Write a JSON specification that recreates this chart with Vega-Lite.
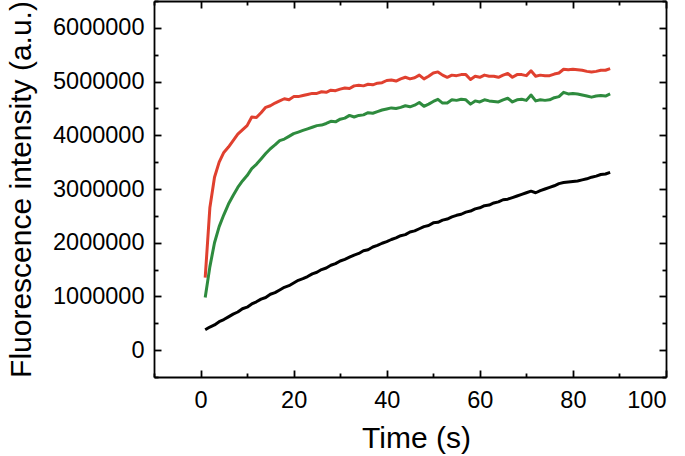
{
  "$schema": "https://vega.github.io/schema/vega-lite/v6.json",
  "width": 512,
  "height": 376,
  "autosize": "none",
  "padding": {"left": 154, "top": 1, "right": 19, "bottom": 79},
  "background": "white",
  "data": {"values": [
    {"t":1,"red":1350000,"green":980000,"black":380000},
    {"t":2,"red":2650000,"green":1550000,"black":430000},
    {"t":3,"red":3220000,"green":2000000,"black":470000},
    {"t":4,"red":3500000,"green":2300000,"black":530000},
    {"t":5,"red":3680000,"green":2520000,"black":570000},
    {"t":6,"red":3780000,"green":2720000,"black":620000},
    {"t":7,"red":3900000,"green":2880000,"black":670000},
    {"t":8,"red":4020000,"green":3030000,"black":710000},
    {"t":9,"red":4100000,"green":3150000,"black":770000},
    {"t":10,"red":4180000,"green":3250000,"black":800000},
    {"t":11,"red":4340000,"green":3380000,"black":860000},
    {"t":12,"red":4330000,"green":3460000,"black":900000},
    {"t":13,"red":4420000,"green":3560000,"black":950000},
    {"t":14,"red":4520000,"green":3660000,"black":980000},
    {"t":15,"red":4550000,"green":3750000,"black":1040000},
    {"t":16,"red":4600000,"green":3820000,"black":1070000},
    {"t":17,"red":4640000,"green":3900000,"black":1120000},
    {"t":18,"red":4680000,"green":3930000,"black":1170000},
    {"t":19,"red":4660000,"green":3980000,"black":1200000},
    {"t":20,"red":4720000,"green":4030000,"black":1250000},
    {"t":21,"red":4720000,"green":4060000,"black":1300000},
    {"t":22,"red":4740000,"green":4090000,"black":1330000},
    {"t":23,"red":4760000,"green":4120000,"black":1370000},
    {"t":24,"red":4780000,"green":4150000,"black":1420000},
    {"t":25,"red":4780000,"green":4180000,"black":1450000},
    {"t":26,"red":4810000,"green":4190000,"black":1500000},
    {"t":27,"red":4800000,"green":4220000,"black":1530000},
    {"t":28,"red":4840000,"green":4260000,"black":1580000},
    {"t":29,"red":4830000,"green":4250000,"black":1610000},
    {"t":30,"red":4860000,"green":4300000,"black":1660000},
    {"t":31,"red":4880000,"green":4320000,"black":1690000},
    {"t":32,"red":4870000,"green":4370000,"black":1730000},
    {"t":33,"red":4920000,"green":4340000,"black":1770000},
    {"t":34,"red":4930000,"green":4370000,"black":1800000},
    {"t":35,"red":4920000,"green":4380000,"black":1850000},
    {"t":36,"red":4950000,"green":4420000,"black":1870000},
    {"t":37,"red":4940000,"green":4410000,"black":1920000},
    {"t":38,"red":4970000,"green":4440000,"black":1950000},
    {"t":39,"red":4980000,"green":4470000,"black":1990000},
    {"t":40,"red":5020000,"green":4490000,"black":2020000},
    {"t":41,"red":5030000,"green":4510000,"black":2060000},
    {"t":42,"red":5010000,"green":4500000,"black":2090000},
    {"t":43,"red":5050000,"green":4520000,"black":2130000},
    {"t":44,"red":5080000,"green":4550000,"black":2150000},
    {"t":45,"red":5050000,"green":4530000,"black":2200000},
    {"t":46,"red":5070000,"green":4560000,"black":2220000},
    {"t":47,"red":5120000,"green":4610000,"black":2260000},
    {"t":48,"red":5050000,"green":4540000,"black":2300000},
    {"t":49,"red":5100000,"green":4580000,"black":2320000},
    {"t":50,"red":5160000,"green":4630000,"black":2370000},
    {"t":51,"red":5180000,"green":4670000,"black":2380000},
    {"t":52,"red":5120000,"green":4600000,"black":2420000},
    {"t":53,"red":5080000,"green":4600000,"black":2440000},
    {"t":54,"red":5120000,"green":4660000,"black":2480000},
    {"t":55,"red":5110000,"green":4650000,"black":2510000},
    {"t":56,"red":5130000,"green":4670000,"black":2530000},
    {"t":57,"red":5130000,"green":4660000,"black":2570000},
    {"t":58,"red":5040000,"green":4580000,"black":2590000},
    {"t":59,"red":5100000,"green":4640000,"black":2630000},
    {"t":60,"red":5080000,"green":4620000,"black":2650000},
    {"t":61,"red":5120000,"green":4660000,"black":2690000},
    {"t":62,"red":5100000,"green":4640000,"black":2700000},
    {"t":63,"red":5100000,"green":4630000,"black":2740000},
    {"t":64,"red":5080000,"green":4620000,"black":2760000},
    {"t":65,"red":5120000,"green":4660000,"black":2800000},
    {"t":66,"red":5150000,"green":4690000,"black":2810000},
    {"t":67,"red":5080000,"green":4620000,"black":2840000},
    {"t":68,"red":5130000,"green":4660000,"black":2870000},
    {"t":69,"red":5130000,"green":4670000,"black":2900000},
    {"t":70,"red":5110000,"green":4650000,"black":2930000},
    {"t":71,"red":5200000,"green":4750000,"black":2960000},
    {"t":72,"red":5100000,"green":4640000,"black":2930000},
    {"t":73,"red":5120000,"green":4660000,"black":2970000},
    {"t":74,"red":5110000,"green":4650000,"black":3000000},
    {"t":75,"red":5110000,"green":4660000,"black":3030000},
    {"t":76,"red":5140000,"green":4700000,"black":3060000},
    {"t":77,"red":5160000,"green":4720000,"black":3100000},
    {"t":78,"red":5230000,"green":4800000,"black":3120000},
    {"t":79,"red":5220000,"green":4770000,"black":3130000},
    {"t":80,"red":5230000,"green":4780000,"black":3140000},
    {"t":81,"red":5220000,"green":4770000,"black":3150000},
    {"t":82,"red":5210000,"green":4750000,"black":3170000},
    {"t":83,"red":5190000,"green":4730000,"black":3190000},
    {"t":84,"red":5180000,"green":4710000,"black":3220000},
    {"t":85,"red":5190000,"green":4730000,"black":3240000},
    {"t":86,"red":5210000,"green":4740000,"black":3270000},
    {"t":87,"red":5210000,"green":4730000,"black":3280000},
    {"t":88,"red":5240000,"green":4770000,"black":3310000}
  ]},
  "transform": [{"fold": ["red", "green", "black"], "as": ["series", "value"]}],
  "layer": [
    {
      "mark": {"type": "line", "strokeWidth": 3, "strokeJoin": "round"},
      "encoding": {
        "x": {"field": "t", "type": "quantitative",
          "scale": {"domain": [-10, 100], "nice": false, "zero": false},
          "axis": {"orient": "bottom", "values": [0, 20, 40, 60, 80, 100], "title": "Time (s)", "tickSize": -7, "labelPadding": 18, "titlePadding": 12, "titleX": 262}},
        "y": {"field": "value", "type": "quantitative",
          "scale": {"domain": [-500000, 6500000], "nice": false, "zero": false},
          "axis": {"orient": "left", "values": [0, 1000000, 2000000, 3000000, 4000000, 5000000, 6000000], "format": "d", "title": "Fluorescence intensity (a.u.)", "tickSize": -7, "labelPadding": 17, "titlePadding": 16, "titleFontSize": 30}},
        "color": {"field": "series", "type": "nominal",
          "scale": {"domain": ["red", "green", "black"], "range": ["#e0402f", "#2e8b3e", "#000000"]},
          "legend": null}
      }
    },
    {
      "mark": {"type": "line", "opacity": 0},
      "encoding": {
        "x": {"field": "t", "type": "quantitative",
          "axis": {"orient": "bottom", "values": [-10, 10, 30, 50, 70, 90], "labels": false, "title": null, "tickSize": -4, "domain": false}},
        "y": {"field": "value", "type": "quantitative",
          "axis": {"orient": "left", "values": [-500000, 500000, 1500000, 2500000, 3500000, 4500000, 5500000, 6500000], "labels": false, "title": null, "tickSize": -4, "domain": false}},
        "detail": {"field": "series"}
      }
    },
    {
      "mark": {"type": "line", "opacity": 0},
      "encoding": {
        "x": {"field": "t", "type": "quantitative",
          "axis": {"orient": "top", "values": [0, 20, 40, 60, 80, 100], "labels": false, "title": null, "tickSize": -7}},
        "y": {"field": "value", "type": "quantitative",
          "axis": {"orient": "right", "values": [0, 1000000, 2000000, 3000000, 4000000, 5000000, 6000000], "labels": false, "title": null, "tickSize": -7}},
        "detail": {"field": "series"}
      }
    },
    {
      "mark": {"type": "line", "opacity": 0},
      "encoding": {
        "x": {"field": "t", "type": "quantitative",
          "axis": {"orient": "top", "values": [-10, 10, 30, 50, 70, 90], "labels": false, "title": null, "tickSize": -4, "domain": false}},
        "y": {"field": "value", "type": "quantitative",
          "axis": {"orient": "right", "values": [-500000, 500000, 1500000, 2500000, 3500000, 4500000, 5500000, 6500000], "labels": false, "title": null, "tickSize": -4, "domain": false}},
        "detail": {"field": "series"}
      }
    }
  ],
  "resolve": {"axis": {"x": "independent", "y": "independent"}},
  "config": {
    "view": {"stroke": null},
    "font": "Liberation Sans",
    "axis": {
      "grid": false,
      "domainColor": "#000000",
      "domainWidth": 1.8,
      "tickColor": "#000000",
      "tickWidth": 1.8,
      "labelFont": "Liberation Sans",
      "labelFontSize": 23.5,
      "labelColor": "#000000",
      "titleFont": "Liberation Sans",
      "titleFontSize": 30,
      "titleFontWeight": "normal",
      "titleColor": "#000000"
    }
  }
}
